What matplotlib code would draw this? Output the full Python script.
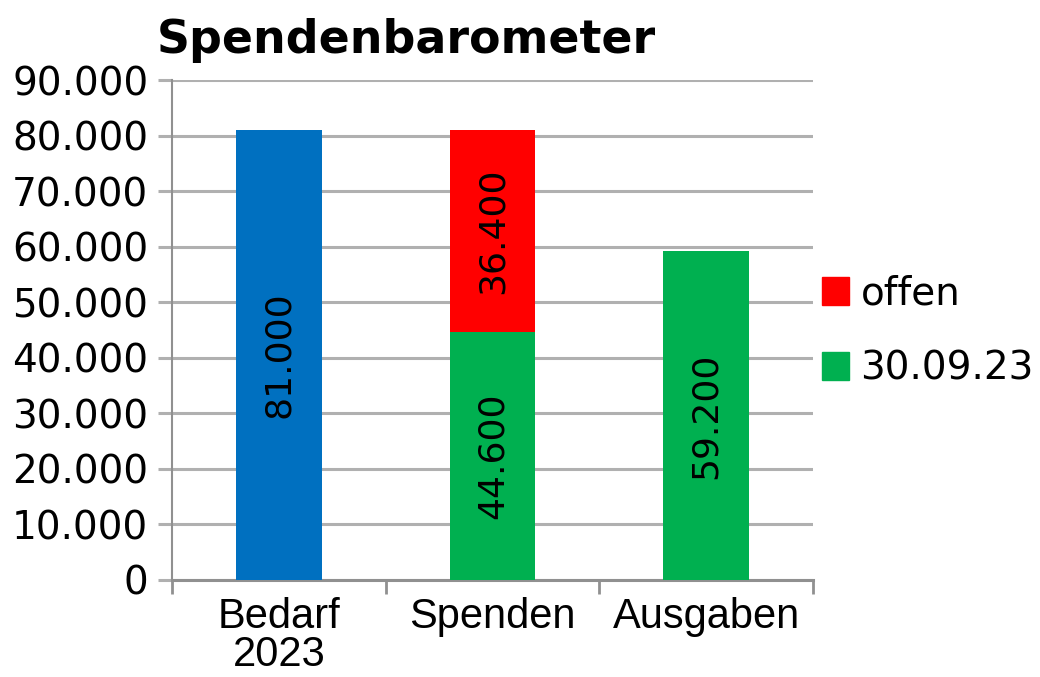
import numpy as np
import matplotlib
matplotlib.use("Agg")
import matplotlib.pyplot as plt
from matplotlib.patches import Patch

# data
categories = ["Bedarf\n2023", "Spenden", "Ausgaben"]
bedarf = [81000, 0, 0]
stand = [0, 44600, 59200]      # 30.09.23
offen = [0, 36400, 0]
yticks = list(range(0, 90001, 10000))

blue = "#0070C0"
green = "#00B050"
red = "#FF0000"
grid_col = "#B0B0B0"


def fmt(v):
    return f"{v:,.0f}".replace(",", ".")


fig = plt.figure(figsize=(10.4, 6.77), dpi=100)
ax = fig.add_axes([0.1654, 0.1433, 0.6163, 0.7385])

x = np.arange(len(categories))
w = 0.4
ax.bar(x[0], bedarf[0], width=w, color=blue, zorder=3)
ax.bar(x[1:], stand[1:], width=w, color=green, zorder=3)
ax.bar(x[1], offen[1], bottom=stand[1], width=w, color=red, zorder=3)

# value labels inside bars
lab_kw = dict(rotation=90, ha="center", va="center", fontsize=26,
              family="DejaVu Sans", zorder=4)
ax.text(x[0], bedarf[0] / 2, fmt(bedarf[0]), **lab_kw)
ax.text(x[1], stand[1] / 2, fmt(stand[1]), **lab_kw)
ax.text(x[1], stand[1] + offen[1] / 2, fmt(offen[1]), **lab_kw)
ax.text(x[2], stand[2] / 2, fmt(stand[2]), **lab_kw)

ax.set_xlim(-0.5, 2.5)
ax.set_ylim(0, 90000)
ax.set_yticks(yticks)
ax.set_yticklabels([fmt(v) for v in yticks], fontsize=28, family="DejaVu Sans")
ax.yaxis.grid(True, color=grid_col, lw=2.2, zorder=0)
ax.tick_params(axis="y", length=10, width=2.2, color=grid_col, pad=7)

ax.set_xticks(x)
ax.set_xticklabels(categories, fontsize=30, family="Liberation Sans",
                   linespacing=0.95)
ax.set_xticks([-0.5, 0.5, 1.5, 2.5], minor=True)
ax.tick_params(axis="x", which="major", length=0, pad=12)
ax.tick_params(axis="x", which="minor", length=10, width=2, color="#909090")

for s in ["top", "right"]:
    ax.spines[s].set_visible(False)
ax.spines["left"].set_color("#909090")
ax.spines["left"].set_linewidth(1.5)
ax.spines["bottom"].set_color("#909090")
ax.spines["bottom"].set_linewidth(2.2)

fig.text(0.151, 0.922, "Spendenbarometer", fontsize=33, fontweight="bold",
         family="DejaVu Sans", va="baseline", ha="left")

handles = [Patch(color=red, label="offen"), Patch(color=green, label="30.09.23")]
fig.legend(handles=handles, loc="center left", bbox_to_anchor=(0.79, 0.511),
           frameon=False, handlelength=0.7, handleheight=0.7,
           handletextpad=0.3, labelspacing=0.95, borderpad=0,
           borderaxespad=0,
           prop={"family": "DejaVu Sans", "size": 28})

fig.savefig("out.png", dpi=100)
